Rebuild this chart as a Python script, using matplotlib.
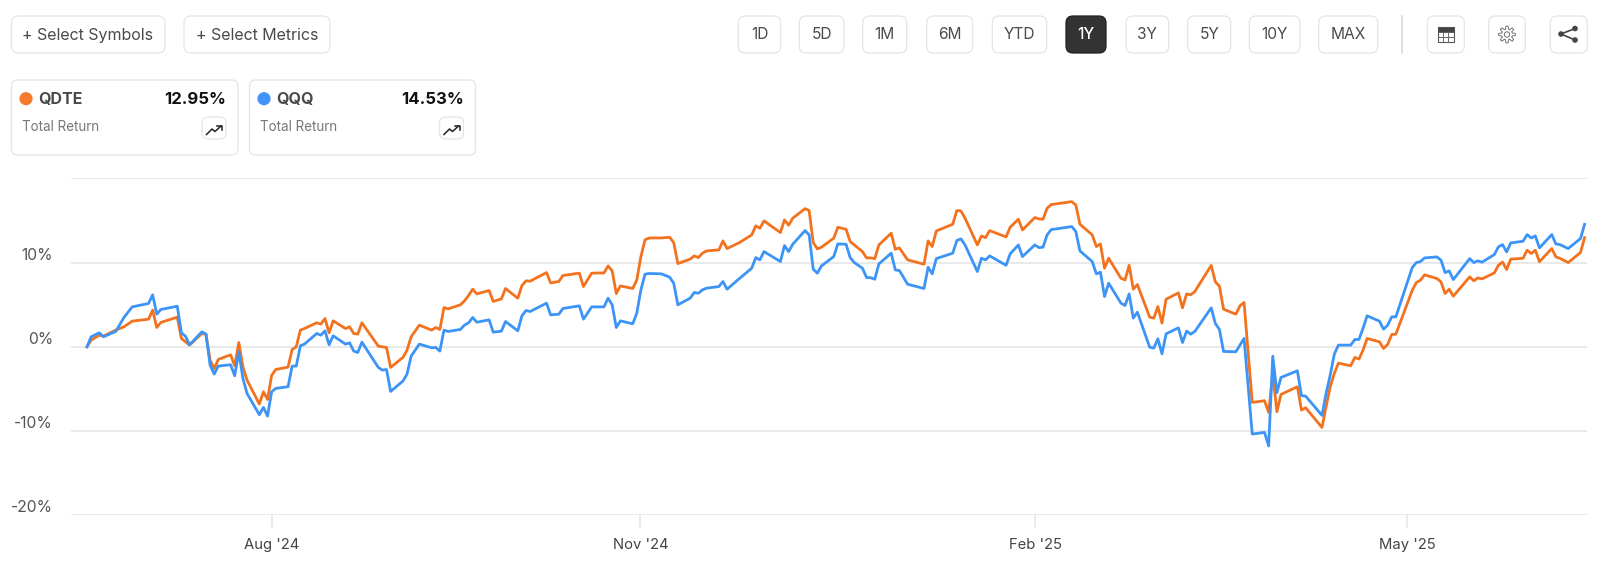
import numpy as np
import matplotlib
matplotlib.use("Agg")
import matplotlib.pyplot as plt
from matplotlib.patches import FancyBboxPatch, Circle, Rectangle, Polygon
from matplotlib.transforms import ScaledTranslation

plt.rcParams['font.family'] = ['Inter', 'DejaVu Sans']

# calendar days since the start of the one-year window
days = [0,1,3,4,7,9,11,15,16,17,18,22,23,24,25,28,29,30,31,32,35,36,37,38,39,42,43,44,45,46,49,50,51,52,53,56,57,58,59,60,
        63,64,65,66,67,71,72,73,74,77,78,79,81,84,85,86,87,88,91,92,93,
        94,95,98,99,101,102,105,106,107,108,112,113,115,116,120,121,123,126,127,128,129,130,133,134,135,136,137,140,142,143,144,
        147,148,149,150,151,154,155,156,159,162,163,164,165,169,170,171,172,175,176,177,178,179,182,183,185,186,187,189,190,191,
        192,193,196,197,198,200,204,205,206,207,211,212,213,214,217,218,219,220,224,225,227,228,231,232,233,234,235,240,241,242,
        245,246,247,248,249,252,253,254,255,256,259,260,261,262,263,266,267,268,269,270,274,
        275,276,277,280,281,282,284,287,288,289,290,291,295,296,297,301,302,303,304,305,308,309,310,311,312,315,316,317,318,319,
        323,324,325,326,329,330,331,332,333,337,338,339,340,343,344,345,346,347,350,351,352,353,354,357,358,359,361,364,365]

qqq = [0,1.19,1.66,1.19,1.82,3.48,4.74,5.14,6.17,3.87,4.43,4.82,1.66,1.26,0.24,1.78,1.5,-2.17,-3.24,-2.29,-2.13,-3.44,-0.59,-3.75,-5.53,-8.06,-7.19,-8.22,-5.34,-4.94,-4.74,-2.29,-2.29,0.12,0.32,1.58,1.38,1.9,0.24,1.3,
       0.32,0.47,-0.51,-0.67,0.55,-2.45,-2.77,-2.69,-5.3,-4.07,-3.24,-1.11,0.32,-0.12,-0.08,-0.51,1.98,1.82,2.06,2.57,2.85,
       3.48,2.92,3.2,1.74,1.86,3.0,1.9,3.68,4.31,4.19,5.18,3.79,3.87,4.55,4.86,3.28,4.74,4.74,5.77,4.98,2.29,3.08,2.73,3.99,6.76,8.62,8.7,8.66,8.26,7.55,4.98,
       5.77,6.44,6.36,6.76,6.96,7.15,7.75,6.84,8.1,9.33,10.59,10.32,11.3,10.12,12.02,11.3,12.17,13.79,13.28,9.21,8.74,9.6,10.71,12.21,12.17,10.59,10.0,9.33,8.22,8.2,
       8.02,9.84,11.11,9.13,9.05,7.43,6.92,9.45,8.66,10.47,11.11,12.61,12.81,12.09,8.93,10.51,10.32,10.79,9.68,11.03,12.09,10.71,12.09,11.78,11.82,13.28,13.91,14.27,13.68,11.38,
       10.12,8.66,8.85,5.97,7.55,5.18,4.9,6.28,3.4,4.11,-0.04,-0.16,0.95,-0.83,1.54,2.25,0.51,1.86,1.5,1.82,4.62,
       2.77,2.06,-0.55,-0.59,0.2,0.99,-10.36,-10.16,-11.78,-1.11,-5.45,-3.64,-2.85,-5.81,-5.85,-8.14,-5.53,-3.36,-0.87,0.2,0.2,0.87,0.87,2.2,3.68,3.04,2.09,2.57,3.56,3.56,
       9.41,10,10.12,10.55,10.67,10.28,8.81,9.01,7.98,10.47,10,10.2,10.04,10.95,11.86,12.13,11.26,12.33,12.53,13.32,12.92,13.16,11.74,13.32,12.21,12.13,11.66,12.85,14.53]

qdte = [0,0.79,1.38,1.26,1.98,2.37,3.04,3.28,4.35,2.29,2.89,3.52,0.99,0.59,0.2,1.58,1.5,-1.58,-2.57,-1.5,-0.95,-2.25,0.51,-2.37,-3.95,-6.8,-5.34,-6.25,-3.4,-2.69,-2.41,-0.32,0,1.98,2.17,2.85,2.69,3.36,1.66,3.08,
        2.17,2.37,1.58,1.5,2.85,0.08,0,-0.08,-2.45,-1.26,-0.4,1.19,2.57,1.98,2.29,2.06,4.66,4.5,4.98,5.45,6.09,
        6.84,6.28,6.68,5.38,5.69,6.92,5.77,7.27,7.83,7.79,8.81,7.59,7.75,8.46,8.74,7.15,8.74,8.77,9.6,9.01,6.32,7.23,6.92,7.94,10.71,12.69,12.92,12.92,13.0,12.37,9.88,
        10.4,10.79,10.59,11.11,11.38,11.5,12.57,11.66,12.37,13.28,14.35,14.07,14.94,13.56,15.06,14.43,15.26,16.4,16.17,12.37,11.62,11.82,12.89,14.19,13.95,12.49,12.09,11.3,10.55,10.55,
        10.47,12.09,13.48,11.58,11.74,10.32,9.8,12.57,11.9,13.75,14.55,16.17,16.13,15.26,12.09,13.16,12.96,13.79,13.04,14.19,15.14,13.87,15.34,15.18,15.14,16.44,16.88,17.23,16.84,14.55,
        13.28,11.9,12.21,9.33,10.51,8.14,7.94,9.68,6.84,7.39,3.52,3.4,4.78,2.81,5.65,6.4,4.62,6.28,6.17,6.56,9.66,
        7.71,7.19,4.47,3.87,4.86,5.26,-6.6,-6.4,-7.79,-3.16,-7.71,-5.65,-4.74,-7.51,-7.23,-9.57,-7.11,-4.74,-3.16,-1.94,-2.25,-1.26,-1.46,-0.4,0.99,0.59,-0.2,0.28,1.46,1.5,
        6.72,7.63,7.91,8.54,8.1,7.71,6.32,6.84,6.01,8.3,7.83,8.18,8.06,8.77,9.68,10.06,9.17,10.4,10.51,11.46,11.07,11.46,10.1,11.66,10.67,10.5,10,11.19,12.95]

y_ticks = [-20, -10, 0, 10, 20]
y_tick_labels = ['-20%', '-10%', '0%', '10%', '']
x_ticks = [45.1, 134.9, 231.1, 321.8]
x_tick_labels = ["Aug '24", "Nov '24", "Feb '25", "May '25"]

periods = ['1D', '5D', '1M', '6M', 'YTD', '1Y', '3Y', '5Y', '10Y', 'MAX']
cards = [('QDTE', '12.95%'), ('QQQ', '14.53%')]

ORANGE, BLUE = '#F2721E', '#3C94F6'
GRID = '#E4E4E4'
W, H = 1600, 585

fig = plt.figure(figsize=(W / 100, H / 100), dpi=100, facecolor='white')

# chart
L, R, T, B = 71, 1587, 178.3, 515.3
ax = fig.add_axes([L / W, 1 - B / H, (R - L) / W, (B - T) / H])
k = 4.103
ax.set_xlim((L - 87) / k, (R - 87) / k)
ax.set_ylim(-20, 20)
for s in ax.spines.values():
    s.set_visible(False)
ax.patch.set_alpha(0)
ax.grid(axis='y', color=GRID, lw=1.15, zorder=1)
ax.set_yticks(y_ticks, y_tick_labels)
ax.set_xticks(x_ticks, x_tick_labels)
ax.tick_params(axis='y', length=0, pad=13, labelsize=11.3, labelcolor='#555555')
ax.tick_params(axis='x', length=9, width=1.1, color=GRID, pad=7.5, labelsize=10.7, labelcolor='#444444')
shift = ScaledTranslation(0, 9 / 100, fig.dpi_scale_trans)
for t in ax.get_yticklabels():
    t.set_transform(t.get_transform() + shift)
ax.plot(days, qdte, color=ORANGE, lw=2.0, zorder=3, solid_joinstyle='round', label='QDTE')
ax.plot(days, qqq, color=BLUE, lw=2.0, zorder=4, solid_joinstyle='round', label='QQQ')

# user-interface layer, in pixels
ui = fig.add_axes([0, 0, 1, 1], zorder=5)
ui.set_xlim(0, W)
ui.set_ylim(H, 0)
ui.axis('off')
ui.patch.set_alpha(0)


def box(x0, x1, y0, y1, r=7, fc='white', ec='#E5E5E5', lw=0.9):
    ui.add_patch(FancyBboxPatch((x0, y0), x1 - x0, y1 - y0, boxstyle=f'round,pad=0,rounding_size={r}',
                                fc=fc, ec=ec, lw=lw, mutation_aspect=1))


box(11.5, 165, 16, 53)
ui.text(22.5, 35.5, '+ Select Symbols', fontsize=11.5, color='#4A4A4A', va='center')
box(184, 330, 16, 53)
ui.text(195.5, 35.5, '+ Select Metrics', fontsize=11.5, color='#4A4A4A', va='center')

spans = [(738.3, 780.7), (799.3, 844), (862.7, 906.7), (926.7, 972.7), (992.3, 1046.7),
         (1066, 1106), (1126, 1168.7), (1187.7, 1230.7), (1249.3, 1300), (1318.7, 1377.7)]
for p, (a, b) in zip(periods, spans):
    on = p == '1Y'
    box(a, b, 16, 53, fc='#333333' if on else 'white', ec='#222222' if on else '#E5E5E5')
    ui.text((a + b) / 2, 34.5, p, fontsize=11.2, color='white' if on else '#4A4A4A', ha='center', va='center',
            fontweight='medium' if on else 'normal')
ui.plot([1402, 1402], [16, 53], color='#DDDDDD', lw=1.3)

# table button
box(1427.3, 1464.3, 16, 53)
ui.add_patch(Rectangle((1438, 27), 15.5, 5, fc='#444444', ec='#444444', lw=0.5))
ui.add_patch(Rectangle((1438, 27), 15.5, 14.5, fc='none', ec='#555555', lw=0.8))
for xx in (1443.2, 1448.4):
    ui.plot([xx, xx], [32, 41.5], color='#666666', lw=0.7)
for yy in (36.7,):
    ui.plot([1438, 1453.5], [yy, yy], color='#666666', lw=0.7)

# gear button
box(1488.7, 1525.3, 16, 53)
ang = np.linspace(0, 2 * np.pi, 193)
rad = 6.9 + 1.5 * np.clip(np.cos(8 * ang) * 1.8, -1, 1)
ui.add_patch(Polygon(np.c_[1507 + rad * np.cos(ang), 34.5 + rad * np.sin(ang)], closed=True, fc='none', ec='#666666', lw=0.65))
ui.add_patch(Circle((1507, 34.5), 2.7, fc='none', ec='#666666', lw=0.65))

# share button
box(1550.3, 1587.3, 16, 53)
pts = [(1575, 28.5), (1561, 34), (1575, 40)]
ui.plot([pts[0][0], pts[1][0], pts[2][0]], [pts[0][1], pts[1][1], pts[2][1]], color='#444444', lw=1.2)
for c in pts:
    ui.add_patch(Circle(c, 2.8, fc='#444444', ec='none'))

# metric cards
card_x = [(11.5, 238), (249.5, 475.5)]
for (name, pct), (a, b), col in zip(cards, card_x, ['#F47B2C', '#4393F8']):
    box(a, b, 80, 155, r=6)
    ui.add_patch(Circle((a + 14.5, 98.7), 6.6, fc=col, ec='none'))
    ui.text(a + 26.5, 99.5, name, fontsize=11.5, fontweight='bold', color='#4A4A4A', va='center')
    ui.text(b - 11.5, 99.5, pct, fontsize=12, fontweight='bold', color='#111111', va='center', ha='right')
    ui.text(a + 11, 127, 'Total Return', fontsize=9.7, color='#777777', va='center')
    box(b - 36, b - 12, 117, 139, r=6)
    ox, oy = b - 36, 117
    ui.plot([ox + 4.5, ox + 10, ox + 13, ox + 19], [oy + 17.5, oy + 12, oy + 14.5, oy + 9], color='#222222', lw=1.1)
    ui.plot([ox + 15, ox + 20, ox + 20], [oy + 8.5, oy + 8.5, oy + 13], color='#222222', lw=1.1)

fig.savefig('out.png', dpi=100, facecolor='white')
